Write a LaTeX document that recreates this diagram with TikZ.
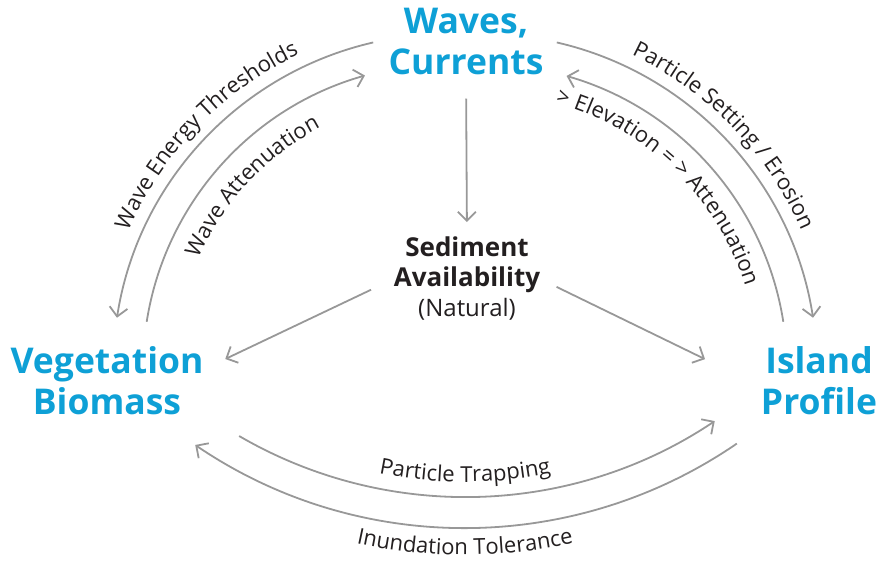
\documentclass[tikz,border=0pt]{standalone}
\usepackage{fontspec}
\setmainfont{Open Sans}
\usetikzlibrary{arrows.meta}
\usetikzlibrary{decorations.text}

\definecolor{titleblue}{RGB}{14,160,214}
\definecolor{flowgrey}{RGB}{152,152,152}
\definecolor{inkblack}{RGB}{35,31,32}

\newcommand\labelfont{\fontsize{22}{22}\selectfont}

\tikzset{
  flow/.style={draw=flowgrey, line width=1.8pt, -{Straight Barb[length=9pt,width=18pt]}},
  title/.style={text=titleblue, font=\bfseries\fontsize{35.5}{41}\selectfont, align=center, inner sep=0pt, anchor=base},
  hub/.style={text=inkblack, font=\fontsize{26}{30}\selectfont, align=center, inner sep=0pt, anchor=base},
  arclabel/.style={decorate, decoration={text along path, text align=center, text color=inkblack, text={|\labelfont|#1}}}
}

\begin{document}
\begin{tikzpicture}[x=1pt, y=1pt]
\useasboundingbox (0,0) rectangle (879,561);

\node[title] (waves) at (466,486) {Waves,\\Currents};
\node[hub] (sediment) at (467,244) {\textbf{Sediment}\\\textbf{Availability}\\{\fontsize{24}{30}\selectfont(Natural)}};
\node[title] (vegetation) at (107,146) {Vegetation\\Biomass};
\node[title] (island) at (819,146) {Island\\Profile};

% centres of the loops
\coordinate (cl) at (448,192);
\coordinate (cr) at (482,192);
\coordinate (cb) at (465,513);

\foreach \c/\r/\a/\b in {cl/335/102.9/171.2, cl/305/171.1/105.8, cr/335/77.1/8.8, cr/305/8.9/73.9, cb/449/239.8/303.8, cb/480/304.5/235.8}
{
	\draw[flow] ([shift={(\a:\r)}]\c) arc[start angle=\a, end angle=\b, radius=\r];
}

\draw[flow, shorten <=23pt, shorten >=15pt] (waves.south) -- (sediment.north);
\draw[flow, shorten <=25pt, shorten >=24pt] (sediment.west) -- (vegetation.7);
\draw[flow, shorten <=18pt, shorten >=62pt] (sediment.east) -- (island.185);

\path[arclabel={Wave Energy Thresholds}] ([shift={(170:348)}]cl) arc[start angle=170, end angle=102, radius=348];
\path[arclabel={Wave Attenuation}] ([shift={(175:273)}]cl) arc[start angle=175, end angle=99, radius=273];
\path[arclabel={Particle Setting / Erosion}] ([shift={(78:348)}]cr) arc[start angle=78, end angle=10, radius=348];
\path[arclabel={> Elevation = > Attenuation}] ([shift={(90:276)}]cr) arc[start angle=90, end angle=2, radius=276];
\path[arclabel={Particle Trapping}] ([shift={(245:434)}]cb) arc[start angle=245, end angle=295, radius=434];
\path[arclabel={Inundation Tolerance}] ([shift={(250:507)}]cb) arc[start angle=250, end angle=290, radius=507];
\end{tikzpicture}
\end{document}
